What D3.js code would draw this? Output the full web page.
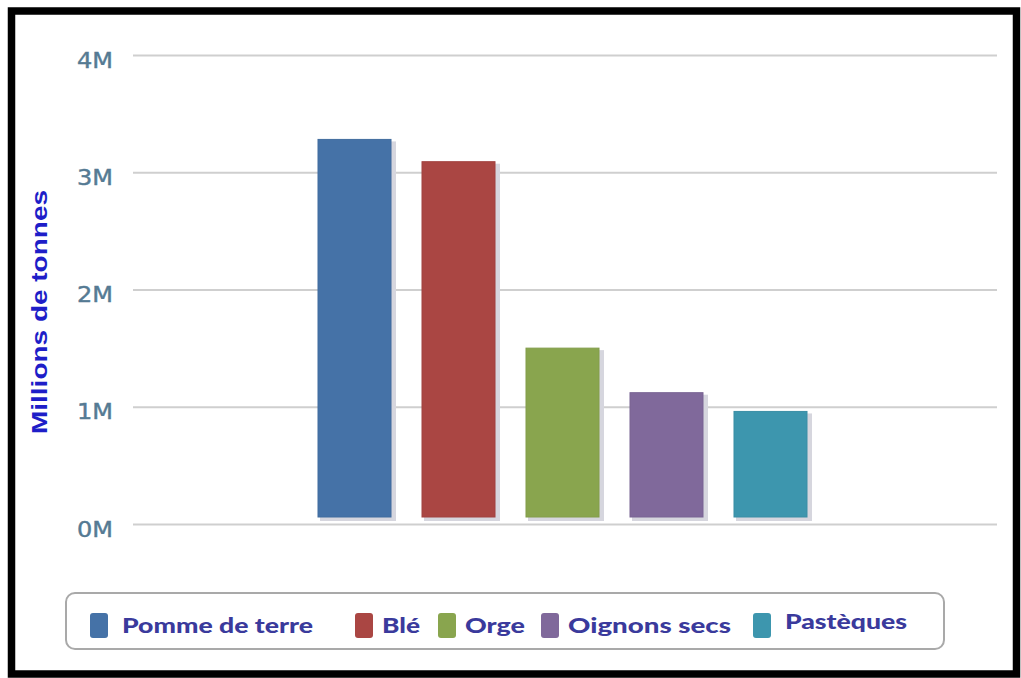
<!DOCTYPE html>
<html>
<head>
<meta charset="utf-8">
<script src="https://cdn.jsdelivr.net/npm/d3@7"></script>
<style>
  html, body { margin: 0; padding: 0; background: #fff; }
  svg { display: block; }
</style>
</head>
<body>
<svg id="chart" width="1021" height="678"></svg>
<script>
// Production by crop, in tonnes
const categories = ["Pomme de terre", "Blé", "Orge", "Oignons secs", "Pastèques"];
const values = [3280000, 3090000, 1500000, 1120000, 960000];
const colors = ["#4572a7", "#aa4643", "#89a54e", "#80699b", "#3d96ae"];
const tickValues = [0, 1000000, 2000000, 3000000, 4000000];
const tickLabels = ["0M", "1M", "2M", "3M", "4M"];
const axisTitle = "Millions de tonnes";

const svg = d3.select("#chart");

// Outer black frame
svg.append("rect")
  .attr("x", 11.5).attr("y", 11).attr("width", 1005).attr("height", 663)
  .attr("fill", "#fff").attr("stroke", "#000").attr("stroke-width", 7.5);

const plot = { left: 133, right: 997, top: 55, bottom: 524 };

const y = d3.scaleLinear().domain([0, 4000000]).range([plot.bottom, plot.top]);
const x = d3.scaleBand().domain(categories)
  .range([302.4, 822.6]).paddingInner(0.298).paddingOuter(0.15);

// Horizontal grid lines with tick labels
const yAxis = d3.axisLeft(y)
  .tickValues(tickValues)
  .tickSize(-(plot.right - plot.left))
  .tickPadding(20)
  .tickFormat((d, i) => tickLabels[i]);

const axisG = svg.append("g")
  .attr("transform", `translate(${plot.left},0)`)
  .call(yAxis);
axisG.select(".domain").remove();
axisG.selectAll(".tick line")
  .attr("stroke", "#cfcfcf").attr("stroke-width", 2.2);
axisG.selectAll(".tick text")
  .attr("fill", "#557a93")
  .attr("font-family", "'DejaVu Sans Condensed', 'DejaVu Sans', sans-serif")
  .attr("font-size", 22)
  .attr("font-weight", "normal")
  .attr("stroke", "#557a93")
  .attr("stroke-width", 0.4)
  .attr("textLength", 36)
  .attr("lengthAdjust", "spacingAndGlyphs")
  .attr("dy", "0.55em");

// Axis title
svg.append("text")
  .attr("transform", "translate(47,312) rotate(-90)")
  .attr("text-anchor", "middle")
  .attr("font-family", "'Liberation Sans', Arial, sans-serif")
  .attr("font-weight", "bold")
  .attr("font-size", 22)
  .attr("textLength", 244)
  .attr("lengthAdjust", "spacingAndGlyphs")
  .attr("fill", "#1e1ec8")
  .text(axisTitle);

// Bars with a soft drop shadow
const gap = 7;
const bars = svg.append("g");
bars.selectAll("rect.shadow")
  .data(values)
  .join("rect")
  .attr("class", "shadow")
  .attr("x", (d, i) => x(categories[i]) + 2)
  .attr("y", d => y(d) + 2)
  .attr("width", x.bandwidth() + 3)
  .attr("height", d => y(0) - gap - y(d) + 2)
  .attr("fill", "#d6d6de");
bars.selectAll("rect.bar")
  .data(values)
  .join("rect")
  .attr("class", "bar")
  .attr("x", (d, i) => x(categories[i]))
  .attr("y", d => y(d))
  .attr("width", x.bandwidth())
  .attr("height", d => y(0) - gap - y(d))
  .attr("fill", (d, i) => colors[i])
  .attr("stroke", (d, i) => d3.color(colors[i]).darker(0.15))
  .attr("stroke-width", 1);

// Legend
svg.append("rect")
  .attr("x", 66).attr("y", 593).attr("width", 878).attr("height", 56)
  .attr("rx", 9).attr("ry", 9)
  .attr("fill", "#fff").attr("stroke", "#a9a9a9").attr("stroke-width", 2);

const legendSwatchX = [90, 355, 438, 541, 753];
const legendTextWidths = [191, 38, 60, 163, 122];
const legend = svg.append("g");
const item = legend.selectAll("g")
  .data(categories)
  .join("g")
  .attr("transform", (d, i) => `translate(${legendSwatchX[i]},0)`);
item.append("rect")
  .attr("x", 0).attr("y", 613).attr("width", 18).attr("height", 25)
  .attr("rx", 3)
  .attr("fill", (d, i) => colors[i]);
item.append("text")
  .attr("x", (d, i) => i === 0 ? 32 : (i === 4 ? 32 : 27))
  .attr("y", (d, i) => i === 4 ? 629 : 633)
  .attr("font-family", "Lato, 'Open Sans', sans-serif")
  .attr("font-weight", 900)
  .attr("font-size", 21)
  .attr("textLength", (d, i) => legendTextWidths[i])
  .attr("lengthAdjust", "spacingAndGlyphs")
  .attr("fill", "#3a3a9c")
  .text(d => d);
</script>
</body>
</html>
